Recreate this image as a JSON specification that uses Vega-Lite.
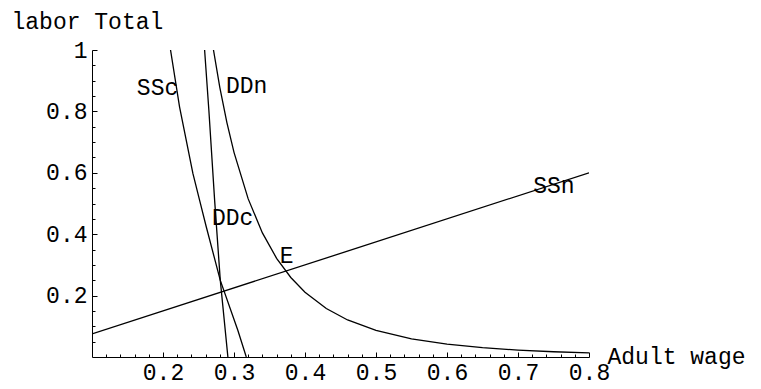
{
  "$schema": "https://vega.github.io/schema/vega-lite/v6.json",
  "width": 497,
  "height": 307,
  "autosize": {"type": "none"},
  "padding": {"left": 92, "top": 50, "right": 172, "bottom": 32},
  "background": "white",
  "config": {
    "view": {"stroke": null},
    "font": "Liberation Mono"
  },
  "datasets": {
    "curves": [
      {"series": "SSn", "x": 0.1, "y": 0.075},
      {"series": "SSn", "x": 0.8, "y": 0.6},
      {"series": "SSc", "x": 0.2106, "y": 1.0},
      {"series": "SSc", "x": 0.2233, "y": 0.815},
      {"series": "SSc", "x": 0.2421, "y": 0.598},
      {"series": "SSc", "x": 0.2515, "y": 0.511},
      {"series": "SSc", "x": 0.261, "y": 0.4235},
      {"series": "SSc", "x": 0.2807, "y": 0.2496},
      {"series": "SSc", "x": 0.3055, "y": 0.0865},
      {"series": "SSc", "x": 0.3173, "y": 0.0},
      {"series": "DDc", "x": 0.2586, "y": 1.0},
      {"series": "DDc", "x": 0.2646, "y": 0.804},
      {"series": "DDc", "x": 0.2727, "y": 0.511},
      {"series": "DDc", "x": 0.2807, "y": 0.2496},
      {"series": "DDc", "x": 0.2914, "y": 0.0},
      {"series": "DDn", "x": 0.2711, "y": 1.0},
      {"series": "DDn", "x": 0.28, "y": 0.8785},
      {"series": "DDn", "x": 0.29, "y": 0.7635},
      {"series": "DDn", "x": 0.3, "y": 0.6667},
      {"series": "DDn", "x": 0.32, "y": 0.515},
      {"series": "DDn", "x": 0.34, "y": 0.4041},
      {"series": "DDn", "x": 0.36, "y": 0.3215},
      {"series": "DDn", "x": 0.38, "y": 0.259},
      {"series": "DDn", "x": 0.4, "y": 0.2109},
      {"series": "DDn", "x": 0.43, "y": 0.158},
      {"series": "DDn", "x": 0.46, "y": 0.1206},
      {"series": "DDn", "x": 0.5, "y": 0.0864},
      {"series": "DDn", "x": 0.55, "y": 0.059},
      {"series": "DDn", "x": 0.6, "y": 0.0417},
      {"series": "DDn", "x": 0.65, "y": 0.03025},
      {"series": "DDn", "x": 0.7, "y": 0.0225},
      {"series": "DDn", "x": 0.75, "y": 0.01707},
      {"series": "DDn", "x": 0.8, "y": 0.01318}
    ],
    "labels": [
      {"label": "SSc", "x": 0.1923, "y": 0.876},
      {"label": "DDn", "x": 0.3178, "y": 0.8825},
      {"label": "DDc", "x": 0.298, "y": 0.452},
      {"label": "E", "x": 0.374, "y": 0.328},
      {"label": "SSn", "x": 0.7505, "y": 0.556}
    ]
  },
  "layer": [
    {
      "data": {"name": "curves"},
      "mark": {"type": "line", "color": "black", "strokeWidth": 1.3, "clip": true},
      "encoding": {
        "x": {
          "field": "x", "type": "quantitative",
          "scale": {"domain": [0.1, 0.8], "nice": false, "zero": false},
          "axis": {
            "title": "Adult wage",
            "titleFont": "Liberation Mono", "titleFontSize": 23, "titleFontWeight": "normal", "titleColor": "black",
            "titleAlign": "left", "titleBaseline": "alphabetic", "titleAnchor": null,
            "titleX": 515, "titleY": 6.5, "titleAngle": 0,
            "tickCount": 200,
            "values": [0.12,0.14,0.16,0.18,0.2,0.22,0.24,0.26,0.28,0.3,0.32,0.34,0.36,0.38,0.4,0.42,0.44,0.46,0.48,0.5,0.52,0.54,0.56,0.58,0.6,0.62,0.64,0.66,0.68,0.7,0.72,0.74,0.76,0.78,0.8],
            "labelExpr": "abs(datum.value*10 - round(datum.value*10)) < 0.000001 ? format(datum.value, '.1f') : ''",
            "labelFont": "Liberation Mono", "labelFontSize": 23, "labelColor": "black",
            "labelOverlap": false, "labelFlush": false, "labelBound": false,
            "labelBaseline": "top", "labelPadding": 9,
            "tickSize": {"condition": {"test": "abs(datum.value*10 - round(datum.value*10)) < 0.000001", "value": -5}, "value": -3},
            "tickColor": "black", "tickWidth": 1,
            "domainColor": "black", "domainWidth": 1,
            "grid": false
          }
        },
        "y": {
          "field": "y", "type": "quantitative",
          "scale": {"domain": [0, 1], "nice": false, "zero": false},
          "axis": {
            "title": "labor Total",
            "titleFont": "Liberation Mono", "titleFontSize": 23, "titleFontWeight": "normal", "titleColor": "black",
            "titleAlign": "left", "titleBaseline": "alphabetic", "titleAnchor": null,
            "titleAngle": 0, "titleX": -81, "titleY": -22,
            "tickCount": 200,
            "values": [0.05,0.1,0.15,0.2,0.25,0.3,0.35,0.4,0.45,0.5,0.55,0.6,0.65,0.7,0.75,0.8,0.85,0.9,0.95,1.0],
            "labelExpr": "datum.value == 1 ? '1' : (abs(datum.value*5 - round(datum.value*5)) < 0.000001 ? format(datum.value, '.1f') : '')",
            "labelFont": "Liberation Mono", "labelFontSize": 23, "labelColor": "black",
            "labelOverlap": false, "labelFlush": false, "labelBound": false,
            "labelPadding": 10,
            "tickSize": {"condition": {"test": "abs(datum.value*5 - round(datum.value*5)) < 0.000001", "value": -5}, "value": -3},
            "tickColor": "black", "tickWidth": 1,
            "domainColor": "black", "domainWidth": 1,
            "grid": false
          }
        },
        "detail": {"field": "series"}
      }
    },
    {
      "data": {"name": "labels"},
      "mark": {"type": "text", "font": "Liberation Mono", "fontSize": 23, "color": "black", "align": "center", "baseline": "middle"},
      "encoding": {
        "x": {"field": "x", "type": "quantitative"},
        "y": {"field": "y", "type": "quantitative"},
        "text": {"field": "label"}
      }
    }
  ]
}
